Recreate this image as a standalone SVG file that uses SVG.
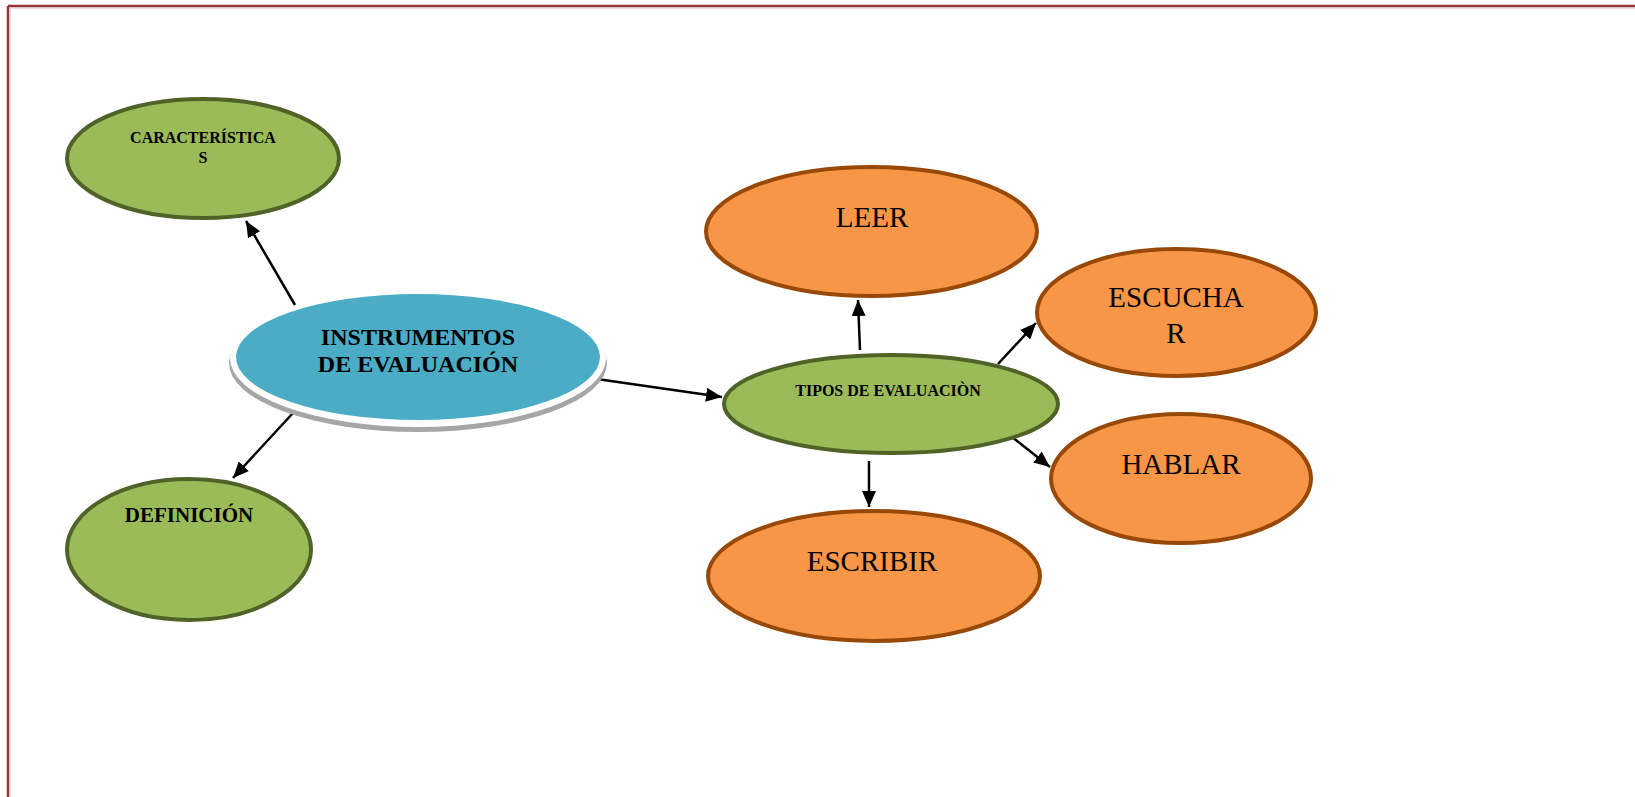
<svg xmlns="http://www.w3.org/2000/svg" width="1635" height="797" viewBox="0 0 1635 797">
<defs>
<marker id="arr" viewBox="0 0 16 14" refX="16" refY="7" markerWidth="16" markerHeight="14" markerUnits="userSpaceOnUse" orient="auto">
<path d="M0,0 L16,7 L0,14 Z" fill="#000"/>
</marker>
</defs>
<style>
.green{fill:#9BBB59;stroke:#4F6228;stroke-width:4}
.orange{fill:#F79646;stroke:#984807;stroke-width:4}
.conn{stroke:#000;stroke-width:2.5;fill:none;marker-end:url(#arr)}
.tb{font-family:"Liberation Serif","Times New Roman",serif;font-weight:bold;fill:#000;text-anchor:middle}
.tr{font-family:"Liberation Serif","Times New Roman",serif;fill:#000;text-anchor:middle;font-size:29px}
</style>
<rect width="1635" height="797" fill="#fff"/>
<g id="border">
<line x1="8" y1="6" x2="1635" y2="6" stroke="#943634" stroke-width="2.5"/>
<line x1="8" y1="6" x2="8" y2="797" stroke="#943634" stroke-width="2.5"/>
<line x1="10" y1="8" x2="1635" y2="8" stroke="#E6B9B8" stroke-width="1"/>
<line x1="10" y1="8" x2="10" y2="797" stroke="#E6B9B8" stroke-width="1"/>
</g>
<g id="connectors">
<line class="conn" x1="295" y1="305" x2="246" y2="221"/>
<line class="conn" x1="293" y1="413" x2="233" y2="478"/>
<line class="conn" x1="590" y1="378" x2="722" y2="397"/>
<line class="conn" x1="860" y1="350" x2="858" y2="300"/>
<line class="conn" x1="998" y1="364" x2="1036" y2="323"/>
<line class="conn" x1="1012" y1="437" x2="1050" y2="467"/>
<line class="conn" x1="869" y1="461" x2="869" y2="507"/>
</g>
<g id="instrumentos">
<ellipse cx="418" cy="363" rx="189" ry="69" fill="#A6A6A6"/>
<ellipse cx="418" cy="358" rx="188" ry="69" fill="#fff"/>
<ellipse cx="418" cy="357" rx="182" ry="63" fill="#4BACC6"/>
<text class="tb" x="418" y="345" font-size="24">INSTRUMENTOS</text>
<text class="tb" x="418" y="372" font-size="24">DE EVALUACIÓN</text>
</g>
<g id="caracteristicas">
<ellipse class="green" cx="203" cy="158.5" rx="136" ry="59.5"/>
<text class="tb" x="203" y="143" font-size="16">CARACTERÍSTICA</text>
<text class="tb" x="203" y="163" font-size="16">S</text>
</g>
<g id="definicion">
<ellipse class="green" cx="189" cy="549.5" rx="122" ry="70.5"/>
<text class="tb" x="189" y="522" font-size="21">DEFINICIÓN</text>
</g>
<g id="tipos">
<ellipse class="green" cx="891" cy="404" rx="167" ry="49"/>
<text class="tb" x="888" y="396" font-size="16">TIPOS DE EVALUACIÒN</text>
</g>
<g id="leer">
<ellipse class="orange" cx="871.5" cy="231.5" rx="165.5" ry="64.5"/>
<text class="tr" x="872" y="227">LEER</text>
</g>
<g id="escuchar">
<ellipse class="orange" cx="1176.5" cy="312.5" rx="139.5" ry="63.5"/>
<text class="tr" x="1176" y="307">ESCUCHA</text>
<text class="tr" x="1176" y="343">R</text>
</g>
<g id="hablar">
<ellipse class="orange" cx="1181" cy="478.5" rx="130" ry="64.5"/>
<text class="tr" x="1181" y="474">HABLAR</text>
</g>
<g id="escribir">
<ellipse class="orange" cx="874" cy="576" rx="166" ry="65"/>
<text class="tr" x="872" y="571">ESCRIBIR</text>
</g>
</svg>
